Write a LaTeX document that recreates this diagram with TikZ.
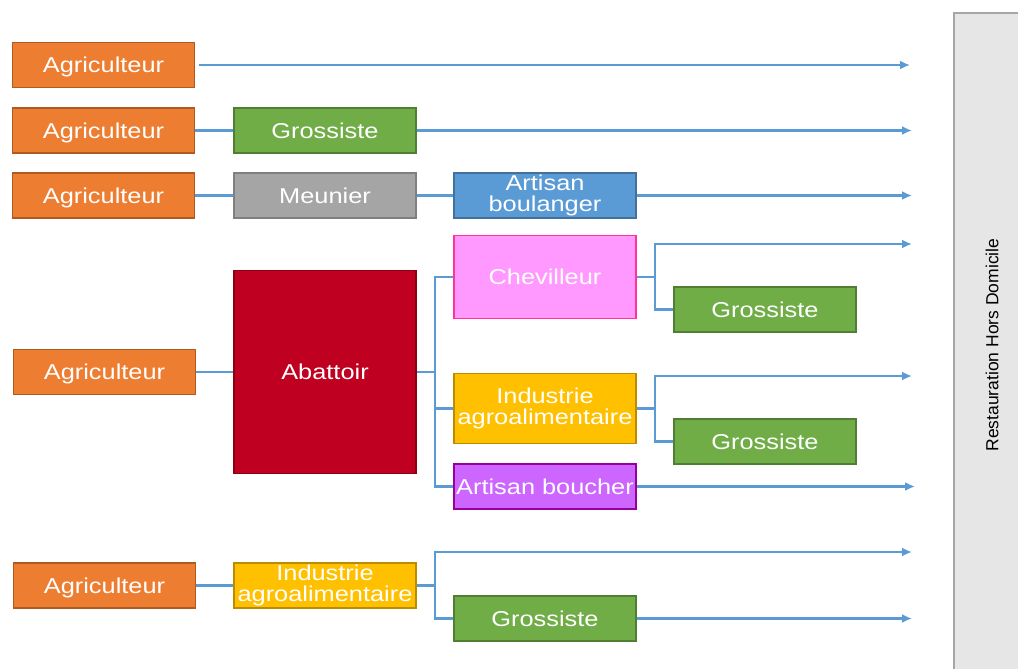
\documentclass[tikz,border=0pt]{standalone}
\usepackage{fontspec}
\setmainfont{Liberation Sans}
\newfontfamily\boxfont[FakeStretch=1.18]{Liberation Sans}
\usetikzlibrary{arrows.meta}
\definecolor{orangeF}{HTML}{ED7D31}\definecolor{orangeD}{HTML}{AE5A21}
\definecolor{greenF}{HTML}{70AD47}\definecolor{greenD}{HTML}{507E32}
\definecolor{grayF}{HTML}{A5A5A5}\definecolor{grayD}{HTML}{7F7F7F}
\definecolor{blueF}{HTML}{5B9BD5}\definecolor{blueD}{HTML}{41719C}
\definecolor{redF}{HTML}{C00020}\definecolor{redD}{HTML}{8C0010}
\definecolor{pinkF}{HTML}{FF99FF}\definecolor{pinkD}{HTML}{FF3399}
\definecolor{goldF}{HTML}{FFC000}\definecolor{goldD}{HTML}{BC8C00}
\definecolor{purpF}{HTML}{CC66FF}\definecolor{purpD}{HTML}{990099}
\definecolor{lineC}{HTML}{5B9BD5}
\definecolor{rhdF}{HTML}{E6E6E6}\definecolor{rhdD}{HTML}{A6A6A6}
\begin{document}
\begin{tikzpicture}[x=1pt,y=-1pt,
  box/.style={draw, line width=1.8pt, text=white, align=center, inner sep=0pt,
    minimum width=182pt, minimum height=45pt,
    font=\boxfont\fontsize{21.5}{21}\selectfont},
  oneline/.style={box, text height=15.4pt, text depth=0pt},
  agri/.style={oneline, fill=orangeF, draw=orangeD},
  gros/.style={oneline, fill=greenF, draw=greenD},
  meun/.style={oneline, fill=grayF, draw=grayD},
  boul/.style={box, fill=blueF, draw=blueD},
  abat/.style={oneline, fill=redF, draw=redD},
  chevb/.style={oneline, fill=pinkF, draw=pinkD},
  indb/.style={box, fill=goldF, draw=goldD},
  bouch/.style={oneline, fill=purpF, draw=purpD},
  conn/.style={draw=lineC, line width=2.3pt},
  arr/.style={conn, -{Latex[length=10pt,width=9pt]}},
]
\useasboundingbox (0,0) rectangle (1018,669);
\fill[white] (0,0) rectangle (1018,669);
\clip (0,0) rectangle (1018,669);

% right box
\node[draw=rhdD, fill=rhdF, line width=1.4pt, minimum width=80pt, minimum height=680pt, inner sep=0pt] (rhd) at (994,353) {};
\node[rotate=90, font=\fontsize{17.5}{20}\selectfont, text=black] (rhdt) at (992,345) {Restauration Hors Domicile};

% nodes
\node[agri] (a1) at (103.5,65) {Agriculteur};
\node[agri] (a2) at (103.5,130.5) {Agriculteur};
\node[gros] (g1) at (325,130.5) {Grossiste};
\node[agri] (a3) at (103.5,195.5) {Agriculteur};
\node[meun] (meu) at (325,195.5) {Meunier};
\node[boul] (bou) at (545,195.5) {Artisan\\boulanger};
\node[chevb, minimum height=83pt] (chev) at (545,277) {Chevilleur};
\node[gros] (gch) at (765,309.5) {Grossiste};
\node[abat, minimum height=203pt] (aba) at (325,372) {Abattoir};
\node[agri] (a4) at (104.5,372) {Agriculteur};
\node[indb, minimum height=70pt] (ind) at (545,408.5) {Industrie\\agroalimentaire};
\node[gros] (gind) at (765,441.5) {Grossiste};
\node[bouch] (bch) at (545,486.5) {Artisan boucher};
\node[agri] (a5) at (104.5,585.5) {Agriculteur};
\node[indb] (ind2) at (325,585.5) {Industrie\\agroalimentaire};
\node[gros] (g3) at (545,618.5) {Grossiste};

% free ends and junctions
\coordinate (e1) at (910,65);
\coordinate (e2) at (912,130.5);
\coordinate (e3) at (912,195.5);
\coordinate (e4) at (912,244);
\coordinate (e5) at (912,376);
\coordinate (e6) at (915,486.5);
\coordinate (e7) at (912,552);
\coordinate (e8) at (912,618.5);
\coordinate (j1) at (655,277);
\coordinate (j2) at (435,372);
\coordinate (j3) at (655,408.5);
\coordinate (j4) at (435,585.5);

% connectors
\draw[arr, shorten <=4pt] (a1.east) -- (e1);
\draw[conn] (a2.east) -- (g1.west);
\draw[arr] (g1.east) -- (e2);
\draw[conn] (a3.east) -- (meu.west);
\draw[conn] (meu.east) -- (bou.west);
\draw[arr] (bou.east) -- (e3);

\draw[conn] (a4.east) -- (aba.west);
\draw[conn] (aba.east) -- (j2);
\draw[conn] (j2) |- (chev.west);
\draw[conn] (j2) |- (ind.west);
\draw[conn] (j2) |- (bch.west);

\draw[conn] (chev.east) -- (j1);
\draw[arr] (j1) |- (e4);
\draw[conn] (j1) |- (gch.west);

\draw[conn] (ind.east) -- (j3);
\draw[arr] (j3) |- (e5);
\draw[conn] (j3) |- (gind.west);

\draw[arr] (bch.east) -- (e6);

\draw[conn] (a5.east) -- (ind2.west);
\draw[conn] (ind2.east) -- (j4);
\draw[arr] (j4) |- (e7);
\draw[conn] (j4) |- (g3.west);
\draw[arr] (g3.east) -- (e8);
\end{tikzpicture}
\end{document}
